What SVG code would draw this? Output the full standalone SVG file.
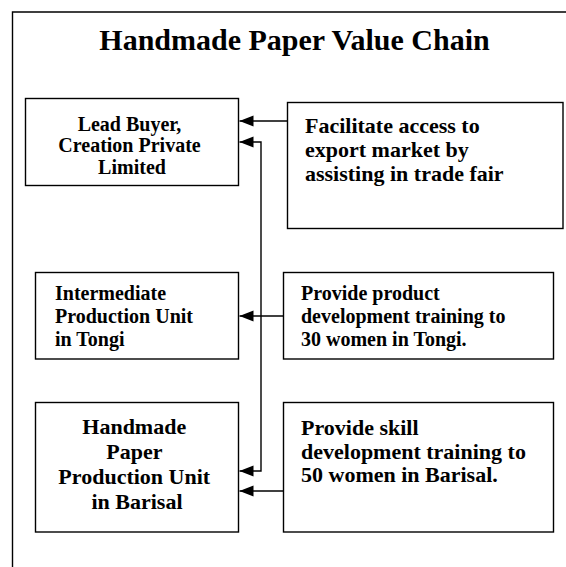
<svg xmlns="http://www.w3.org/2000/svg" width="566" height="567" viewBox="0 0 566 567">
  <defs>
    <marker id="arrow" markerUnits="userSpaceOnUse" markerWidth="15" markerHeight="12" refX="14" refY="5.5" orient="auto-start-reverse">
      <path d="M0,0 L14,5.5 L0,11 z" fill="#000"/>
    </marker>
    <style>
      .box { fill: #fff; stroke: #000; stroke-width: 1.4; }
      .t { font-family: "Liberation Serif", "Times New Roman", serif; font-weight: bold; fill: #000; }
      .conn { fill: none; stroke: #000; stroke-width: 1.4; }
    </style>
  </defs>
  <rect width="566" height="567" fill="#fff"/>
  <g id="frame">
    <path d="M12.5,567 L12.5,12 L566,12" fill="none" stroke="#000" stroke-width="1.4"/>
  </g>
  <g id="title">
    <text class="t" x="294.5" y="50" font-size="30" text-anchor="middle">Handmade Paper Value Chain</text>
  </g>
  <g id="lead-buyer">
    <rect class="box" x="25.5" y="98.5" width="213" height="87"/>
    <text class="t" font-size="20" text-anchor="middle">
      <tspan x="132" y="130.5">Lead Buyer,</tspan>
      <tspan x="132" y="152">Creation Private</tspan>
      <tspan x="132" y="173.5">Limited</tspan>
    </text>
  </g>
  <g id="facilitate">
    <rect class="box" x="287.5" y="102.5" width="275.5" height="126"/>
    <text class="t" font-size="22">
      <tspan x="305" y="133">Facilitate access to</tspan>
      <tspan x="305" y="157">export market by</tspan>
      <tspan x="305" y="181">assisting in trade fair</tspan>
    </text>
  </g>
  <g id="intermediate">
    <rect class="box" x="35.5" y="272.5" width="203" height="86.5"/>
    <text class="t" font-size="20">
      <tspan x="55" y="300">Intermediate</tspan>
      <tspan x="55" y="323">Production Unit</tspan>
      <tspan x="55" y="346">in Tongi</tspan>
    </text>
  </g>
  <g id="product-training">
    <rect class="box" x="283.5" y="272.5" width="270" height="86.5"/>
    <text class="t" font-size="20">
      <tspan x="301" y="300">Provide product</tspan>
      <tspan x="301" y="323">development training to</tspan>
      <tspan x="301" y="346">30 women in Tongi.</tspan>
    </text>
  </g>
  <g id="barisal">
    <rect class="box" x="35.5" y="402.5" width="203" height="129.5"/>
    <text class="t" font-size="22" text-anchor="middle">
      <tspan x="137" y="434">Handmade</tspan>
      <tspan x="137" y="459">Paper</tspan>
      <tspan x="137" y="484">Production Unit</tspan>
      <tspan x="137" y="509">in Barisal</tspan>
    </text>
  </g>
  <g id="skill-training">
    <rect class="box" x="283.5" y="402.5" width="270" height="129.5"/>
    <text class="t" font-size="22">
      <tspan x="301" y="435">Provide skill</tspan>
      <tspan x="301" y="458.5">development training to</tspan>
      <tspan x="301" y="482">50 women in Barisal.</tspan>
    </text>
  </g>
  <g id="connectors">
    <line class="conn" x1="287.5" y1="121" x2="239.5" y2="121" marker-end="url(#arrow)"/>
    <path class="conn" d="M239.5,142 L261,142 L261,471 L239.5,471" marker-start="url(#arrow)" marker-end="url(#arrow)"/>
    <line class="conn" x1="283.5" y1="316" x2="239.5" y2="316" marker-end="url(#arrow)"/>
    <line class="conn" x1="283.5" y1="491" x2="239.5" y2="491" marker-end="url(#arrow)"/>
  </g>
</svg>
